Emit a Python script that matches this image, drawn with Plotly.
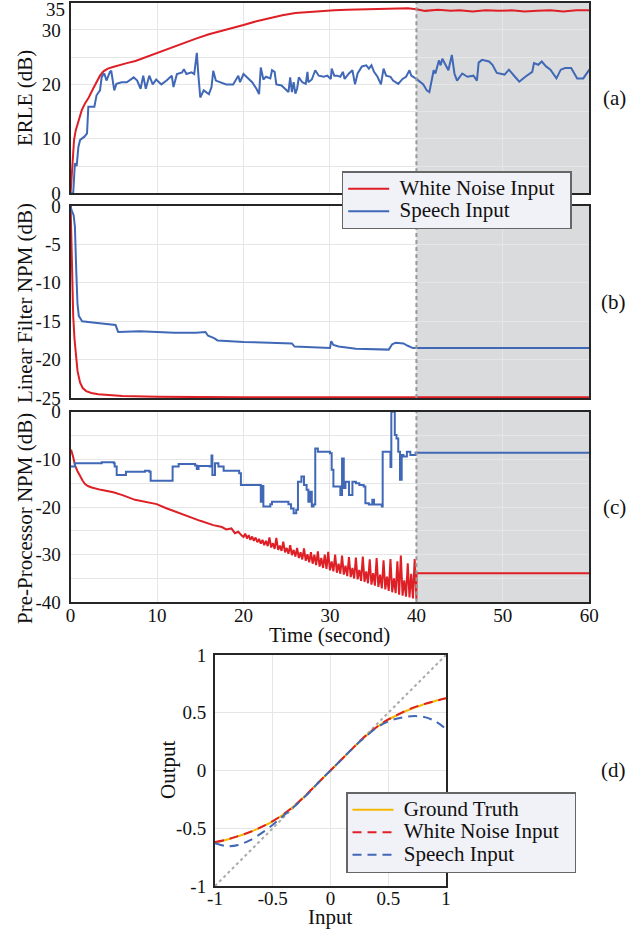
import plotly.graph_objects as go

# ---------------- data ----------------
# (a) ERLE
t_erle_wn = [0, 0.1, 0.25, 0.4, 0.6, 0.9, 1.3, 1.7, 2.1, 2.6, 3.0, 3.4, 3.8, 4.3, 4.9, 5.5, 6.5, 7.5,
             8.5, 10, 11.5, 13, 14.5, 16, 17.5, 19, 20, 21.5, 23, 24.5, 26, 27.5, 29, 30.5, 32, 34, 36,
             37.5, 39, 40, 41, 42.5, 44, 45, 46.5, 48, 49.5, 51, 52.5, 54, 55.5, 57, 58.5, 60]
erle_wn = [0, 3.0, 7.0, 9.8, 11.6, 13.3, 15.3, 16.6, 17.6, 19.2, 20.4, 21.6, 22.4, 22.9, 23.2, 23.5, 23.9,
           24.3, 24.9, 25.8, 26.6, 27.5, 28.4, 29.2, 29.8, 30.4, 30.9, 31.6, 32.2, 32.7, 33.1, 33.3, 33.5,
           33.6, 33.7, 33.8, 33.9, 34.0, 34.0, 33.8, 33.5, 33.7, 33.5, 33.6, 33.4, 33.6, 33.5, 33.6, 33.4,
           33.5, 33.6, 33.4, 33.6, 33.6]

t_erle_sp = [0, 0.3, 0.5, 0.7, 0.9, 1.1, 1.6, 1.9, 2.05, 2.75,
             3.0, 3.4, 3.6, 3.9, 4.15, 4.55, 4.7, 5.05, 5.3, 5.9,
             6.5, 6.9, 7.3, 7.7, 8.1, 8.4, 8.7, 9.1, 9.5, 9.9,
             10.5, 11.1, 11.7, 11.9, 12.3, 12.9, 13.1, 13.4, 14.0, 14.3,
             14.6, 14.8, 15.0, 15.4, 16.0, 16.3, 16.5, 16.8, 17.3, 18.0,
             18.8, 19.4, 19.6, 20.0, 20.4, 21.0, 21.5, 21.8, 22.0, 22.3,
             22.6, 23.1, 23.3, 23.6, 23.8, 24.4, 24.8, 25.2, 25.4, 25.6,
             25.8, 26.0, 26.2, 26.4, 26.8, 27.2, 27.4, 27.5, 27.9, 28.3,
             28.7, 29.3, 29.7, 30.1, 30.2, 30.5, 30.8, 31.2, 31.5, 31.7,
             32.2, 32.6, 32.9, 33.2, 33.7, 34.2, 34.5, 34.8, 35.1, 35.5,
             35.9, 36.2, 36.5, 37.0, 37.3, 37.7, 37.9, 38.4, 38.8, 39.2,
             39.4, 40.0, 40.8, 41.2, 41.5, 42.0, 42.2, 42.6, 42.8, 43.0,
             43.4, 43.7, 44.1, 44.4, 44.7, 45.3, 45.9, 46.6, 47.0, 47.2,
             47.6, 48.4, 48.8, 49.3, 50.2, 50.7, 51.4, 51.9, 52.6, 53.4,
             53.6, 54.1, 54.5, 55.0, 55.5, 56.2, 56.7, 57.2, 57.9, 58.6,
             59.3, 60.0]
erle_sp = [0, 0, 5.5, 5.0, 8.5, 9.8, 10.4, 11.0, 15.9, 15.9,
           18.0, 18.9, 21.4, 22.0, 20.7, 22.3, 22.5, 18.9, 20.1, 20.4,
           20.4, 20.8, 21.3, 20.7, 19.2, 21.6, 19.2, 21.6, 20.0, 20.9,
           20.0, 20.7, 21.6, 19.5, 21.9, 22.2, 22.8, 21.9, 22.2, 21.9,
           25.8, 21.3, 17.6, 18.9, 18.2, 19.5, 22.5, 20.7, 20.4, 20.0,
           20.0, 21.6, 20.4, 21.9, 21.3, 20.4, 19.2, 18.2, 23.1, 20.9,
           21.4, 21.1, 22.6, 22.3, 20.0, 19.8, 19.2, 18.6, 21.3, 18.6,
           20.4, 18.3, 19.2, 21.3, 20.4, 20.1, 22.3, 20.4, 20.9, 22.6,
           21.6, 21.4, 21.6, 21.0, 22.9, 21.6, 21.6, 21.4, 22.3, 21.0,
           22.0, 22.6, 20.0, 22.0, 23.3, 23.5, 22.9, 23.5, 22.3, 21.4,
           20.0, 22.9, 21.6, 21.4, 20.7, 20.4, 20.1, 21.0, 21.4, 22.6,
           21.6, 21.0, 20.0, 18.9, 18.6, 22.6, 22.0, 24.4, 23.5, 24.7,
           23.5, 22.6, 25.4, 22.0, 20.7, 22.0, 21.4, 21.6, 20.7, 24.0,
           24.5, 24.2, 23.6, 22.1, 21.8, 22.7, 21.4, 20.5, 21.4, 22.3,
           23.9, 23.6, 24.2, 23.3, 22.7, 21.1, 22.7, 23.0, 23.0, 21.1,
           21.1, 22.7]

# (b) Linear filter NPM
t_lin_wn = [0, 0.05, 0.1, 0.2, 0.3, 0.45, 0.6, 0.8, 1.1, 1.4, 1.8, 2.4, 3.2, 4.5, 6, 10, 20, 40, 60]
lin_wn = [0, -3, -6.6, -11, -14.3, -17.3, -19.5, -21.5, -23, -23.7, -24.1, -24.35, -24.5, -24.65,
          -24.75, -24.85, -24.9, -24.9, -24.9]
t_lin_sp = [0, 0.1, 0.35, 0.5, 0.66, 0.8, 0.95, 1.33, 2.8, 4.7,
            5.2, 5.5, 8, 10, 12, 14.5, 15.6, 15.9, 16.6, 17.0,
            20, 23, 25.6, 25.9, 28, 30.0, 30.15, 30.4, 31, 33,
            36.8, 37.2, 37.6, 38.5, 39.0, 39.6, 40, 60]
lin_sp = [0, -0.5, -1.2, -2.7, -8.7, -12.8, -14.3, -15.0, -15.2, -15.4,
          -15.5, -16.4, -16.3, -16.4, -16.5, -16.5, -16.4, -16.9, -17.2, -17.5,
          -17.7, -17.8, -17.9, -18.3, -18.4, -18.5, -17.6, -18.1, -18.3, -18.6,
          -18.7, -18.0, -17.8, -17.9, -18.2, -18.5, -18.5, -18.5]

# (c) Pre-processor NPM
t_pre_wn = [0, 0.06, 0.3, 0.5, 0.8, 1.09, 1.4, 1.67, 2.0, 2.44, 3.5, 4.94, 6, 7.45, 8.7, 9.96, 11, 12,
            13.6, 15, 16.5, 17.5, 18.0, 18.6, 19.0, 19.4, 19.8,
            20.0, 20.2, 20.4, 20.6, 20.8, 21.0, 21.2, 21.4, 21.6, 21.8,
            22.0, 22.2, 22.4, 22.6, 22.8, 23.0, 23.2, 23.4, 23.6, 23.8,
            24.0, 24.2, 24.4, 24.6, 24.8, 25.0, 25.2, 25.4, 25.6, 25.8,
            26.0, 26.2, 26.4, 26.6, 26.8, 27.0, 27.2, 27.4, 27.6, 27.8,
            28.0, 28.2, 28.4, 28.6, 28.8, 29.0, 29.2, 29.4, 29.6, 29.8,
            30.0, 30.2, 30.4, 30.6, 30.8, 31.0, 31.2, 31.4, 31.6, 31.8,
            32.0, 32.2, 32.4, 32.6, 32.8, 33.0, 33.2, 33.4, 33.6, 33.8,
            34.0, 34.2, 34.4, 34.6, 34.8, 35.0, 35.2, 35.4, 35.6, 35.8,
            36.0, 36.2, 36.4, 36.6, 36.8, 37.0, 37.2, 37.4, 37.6, 37.8,
            38.0, 38.2, 38.4, 38.6, 38.8, 39.0, 39.2, 39.4, 39.6, 39.8,
            40.0, 40.02, 60]
pre_wn = [-8.5, -8.0, -9.5, -11.2, -12.5, -13.6, -14.5, -15.2, -15.6, -15.9, -16.4, -16.9, -17.5, -18.5,
          -19.0, -19.4, -20.2, -20.9, -22.0, -22.9, -23.8, -24.2, -24.7, -24.5, -25.5, -25.2, -26.0,
          -26.3, -25.6, -26.6, -25.9, -26.9, -26.2, -27.1, -26.4, -27.4, -26.7,
          -27.7, -26.9, -28.0, -27.1, -28.2, -26.4, -28.5, -27.6, -28.8, -26.5,
          -29.0, -28.1, -29.2, -27.3, -29.5, -28.6, -29.8, -28.0, -30.1, -29.0,
          -30.4, -28.6, -30.7, -29.5, -31.0, -28.7, -31.3, -29.9, -31.6, -29.5,
          -31.9, -30.0, -32.2, -29.3, -32.5, -30.7, -32.8, -30.0, -33.0, -29.4,
          -33.3, -31.4, -33.5, -30.0, -33.8, -31.9, -34.0, -30.2, -34.2, -32.3,
          -34.5, -30.5, -34.7, -32.8, -35.0, -30.6, -35.2, -33.2, -35.5, -30.4,
          -35.7, -33.5, -36.0, -31.0, -36.3, -33.9, -36.5, -30.7, -36.8, -34.2,
          -37.1, -31.2, -37.3, -34.6, -37.6, -30.9, -37.9, -35.0, -38.1, -31.4,
          -38.4, -30.2, -38.6, -35.4, -38.8, -31.8, -39.0, -34.0, -39.2, -30.9,
          -39.4, -33.9, -33.9]
t_pre_sp = [0, 0.5, 3.6, 5.0, 5.1, 5.33, 6.0, 6.4, 8.6, 9.1,
            9.26, 11.7, 11.8, 12.5, 14.4, 14.6, 14.8, 16.1, 16.3, 16.4,
            16.7, 17.1, 17.7, 19.5, 19.7, 21.9, 22.0, 22.2, 22.3, 23.1,
            23.3, 25.2, 25.5, 25.8, 26.1, 26.3, 26.7, 27.0, 27.3, 27.5,
            27.7, 27.9, 28.1, 28.3, 28.6, 30.0, 30.2, 30.4, 30.8, 31.2,
            31.4, 31.6, 31.8, 32.2, 32.6, 33.0, 33.4, 33.9, 34.1, 34.5,
            34.9, 35.1, 36.0, 36.1, 36.8, 37.0, 37.1, 37.3, 37.5, 37.7,
            37.9, 38.1, 38.3, 38.5, 38.9, 39.3, 39.9, 60]
pre_sp = [-11.5, -10.8, -10.6, -10.8, -11.5, -13.3, -13.3, -12.6, -12.4, -12.6,
          -14.5, -14.5, -11.5, -11.0, -11.3, -12.0, -11.4, -11.5, -9.2, -13.3,
          -10.8, -11.5, -12.4, -12.9, -15.4, -15.4, -18.9, -15.6, -19.9, -19.4,
          -18.9, -19.4, -20.3, -21.3, -20.6, -14.7, -13.6, -15.4, -16.4, -18.9,
          -16.8, -19.9, -19.5, -7.7, -8.4, -8.7, -12.2, -15.7, -15.7, -17.5,
          -9.8, -16.0, -14.7, -17.5, -14.7, -15.0, -15.4, -15.7, -19.2, -19.5,
          -18.5, -19.5, -19.9, -8.4, -8.4, -11.6, 0, 0, -4.9, -5.6,
          -8.4, -14.3, -9.1, -9.4, -8.4, -9.1, -8.6, -8.7]

# (d) nonlinearity
x_in = [-1.0, -0.9, -0.8, -0.7, -0.6, -0.5, -0.4, -0.3, -0.2, -0.1, 0.0,
        0.1, 0.2, 0.3, 0.4, 0.5, 0.6, 0.7, 0.8, 0.9, 1.0]
y_gt = [-0.625, -0.6, -0.57, -0.535, -0.49, -0.44, -0.375, -0.295, -0.2, -0.1, 0.0,
        0.1, 0.2, 0.295, 0.375, 0.44, 0.49, 0.535, 0.57, 0.6, 0.625]
y_wn = [-0.62, -0.598, -0.568, -0.534, -0.49, -0.438, -0.373, -0.294, -0.2, -0.1, 0.0,
        0.1, 0.2, 0.296, 0.377, 0.442, 0.493, 0.538, 0.572, 0.6, 0.625]
y_sp = [-0.63, -0.655, -0.645, -0.605, -0.545, -0.47, -0.385, -0.3, -0.205, -0.1, 0.0,
        0.1, 0.2, 0.29, 0.37, 0.425, 0.455, 0.47, 0.465, 0.43, 0.36]
diag = [-1.0, 1.0]

time_ticks = [0, 10, 20, 30, 40, 50, 60]
time_labels = ["0", "10", "20", "30", "40", "50", "60"]

# ---------------- style ----------------
W, H = 644, 932
FONT = "Liberation Serif"
RED = "#de1f26"
BLUE = "#4068b6"
GOLD = "#f5b800"
GRID = "#e6e6e6"
FRAME = "#262626"
SHADE = "#dadbdd"


def fx(px):
    return px / W


def fy(py):
    return 1 - py / H


def leg(name):
    # larger visible text, compact row spacing
    return '<span style="font-size:21px">\u00a0' + name + '\u00a0\u00a0</span>'


fig = go.Figure()

lw = 2
fig.add_trace(go.Scatter(x=t_erle_wn, y=erle_wn, mode="lines", line=dict(color=RED, width=lw),
                         name=leg("White Noise Input"), xaxis="x", yaxis="y", legend="legend"))
fig.add_trace(go.Scatter(x=t_erle_sp, y=erle_sp, mode="lines", line=dict(color=BLUE, width=lw),
                         name=leg("Speech Input"), xaxis="x", yaxis="y", legend="legend"))
fig.add_trace(go.Scatter(x=t_lin_wn, y=lin_wn, mode="lines", line=dict(color=RED, width=lw),
                         showlegend=False, xaxis="x2", yaxis="y2"))
fig.add_trace(go.Scatter(x=t_lin_sp, y=lin_sp, mode="lines", line=dict(color=BLUE, width=lw),
                         showlegend=False, xaxis="x2", yaxis="y2"))
fig.add_trace(go.Scatter(x=t_pre_wn, y=pre_wn, mode="lines", line=dict(color=RED, width=2),
                         showlegend=False, xaxis="x3", yaxis="y3"))
fig.add_trace(go.Scatter(x=t_pre_sp, y=pre_sp, mode="lines", line=dict(color=BLUE, width=lw, shape="hv"),
                         showlegend=False, xaxis="x3", yaxis="y3"))

fig.add_trace(go.Scatter(x=diag, y=diag, mode="lines", line=dict(color="#aaaaaa", width=2, dash="dot"),
                         showlegend=False, xaxis="x4", yaxis="y4"))
fig.add_trace(go.Scatter(x=x_in, y=y_gt, mode="lines", line=dict(color=GOLD, width=2, shape="spline"),
                         name=leg("Ground Truth"), xaxis="x4", yaxis="y4", legend="legend2"))
fig.add_trace(go.Scatter(x=x_in, y=y_wn, mode="lines",
                         line=dict(color=RED, width=2, dash="9px,6px", shape="spline"),
                         name=leg("White Noise Input"), xaxis="x4", yaxis="y4", legend="legend2"))
fig.add_trace(go.Scatter(x=x_in, y=y_sp, mode="lines",
                         line=dict(color=BLUE, width=2, dash="9px,6px", shape="spline"),
                         name=leg("Speech Input"), xaxis="x4", yaxis="y4", legend="legend2"))

tickfont = dict(family=FONT, size=19, color="#111")
common = dict(showgrid=True, gridcolor=GRID, gridwidth=1, zeroline=False, showline=True, mirror=True,
              linecolor=FRAME, linewidth=2, ticks="", tickfont=tickfont, fixedrange=True,
              automargin=False)

xdom = [fx(70.6), fx(589.3)]
legfont = dict(family=FONT, size=15, color="#111")
layout = dict(
    width=W, height=H, margin=dict(l=0, r=0, t=0, b=0, autoexpand=False),
    paper_bgcolor="white", plot_bgcolor="white",
    font=dict(family=FONT, size=19, color="#111"),
    xaxis=dict(domain=xdom, anchor="y", range=[0, 60], tickvals=time_ticks, showticklabels=False, **common),
    yaxis=dict(domain=[fy(193.3), fy(2.7)], anchor="x", range=[0, 35],
               tickvals=[0, 5, 10, 15, 20, 25, 30, 35], ticktext=["0", "", "10", "", "20", "", "30", ""],
               ticklabelstandoff=4, **common),
    xaxis2=dict(domain=xdom, anchor="y2", range=[0, 60], tickvals=time_ticks, showticklabels=False, **common),
    yaxis2=dict(domain=[fy(398), fy(206)], anchor="x2", range=[-25, 0],
                tickvals=[-25, -20, -15, -10, -5, 0], ticktext=["-25", "-20", "-15", "-10", "-5", "0"],
                ticklabelstandoff=4, **common),
    xaxis3=dict(domain=xdom, anchor="y3", range=[0, 60], tickvals=time_ticks, ticktext=time_labels,
                ticklabelstandoff=-5, **common),
    yaxis3=dict(domain=[fy(602.3), fy(411.7)], anchor="x3", range=[-40, 0],
                tickvals=[-40, -35, -30, -25, -20, -15, -10, -5, 0],
                ticktext=["-40", "", "-30", "", "-20", "", "-10", "", "0"],
                ticklabelstandoff=4, **common),
    xaxis4=dict(domain=[fx(215), fx(446)], anchor="y4", range=[-1, 1],
                tickvals=[-1, -0.5, 0, 0.5, 1], ticktext=["-1", "-0.5", "0", "0.5", "1"],
                ticklabelstandoff=-6, **common),
    yaxis4=dict(domain=[fy(886), fy(655)], anchor="x4", range=[-1, 1],
                tickvals=[-1, -0.5, 0, 0.5, 1], ticktext=["-1", "-0.5", "0", "0.5", "1"],
                ticklabelstandoff=3, **common),
    legend=dict(x=fx(341.7), y=fy(171), xanchor="left", yanchor="top", bgcolor="#f1f1f8",
                bordercolor="#666666", borderwidth=1.5, font=legfont, itemwidth=41),
    legend2=dict(x=fx(346), y=fy(792), xanchor="left", yanchor="top", bgcolor="#f1f1f8",
                 bordercolor="#666666", borderwidth=1.5, font=legfont, itemwidth=41),
)
fig.update_layout(**layout)

# shaded region and dashed separator in panels (a)-(c)
for xr, yr, lo, hi in [("x", "y", 0, 35), ("x2", "y2", -25, 0), ("x3", "y3", -40, 0)]:
    fig.add_shape(type="rect", xref=xr, yref=yr, x0=40, x1=60, y0=lo, y1=hi,
                  fillcolor=SHADE, line=dict(width=0), layer="below")
    fig.add_shape(type="line", xref=xr, yref=yr, x0=40, x1=40, y0=lo, y1=hi,
                  line=dict(color="#999999", width=2, dash="4px,3px"), layer="above")

tfont = dict(family=FONT, size=21, color="#111")
ann = [
    dict(text="ERLE (dB)", x=fx(25), y=fy(98), textangle=-90),
    dict(text="Linear Filter NPM (dB)", x=fx(25), y=fy(303), textangle=-90),
    dict(text="Pre-Processor NPM (dB)", x=fx(25), y=fy(519), textangle=-90),
    dict(text="Time (second)", x=fx(329), y=fy(635)),
    dict(text="(a)", x=fx(614), y=fy(98)),
    dict(text="(b)", x=fx(613), y=fy(302)),
    dict(text="(c)", x=fx(614), y=fy(507)),
    dict(text="(d)", x=fx(613), y=fy(770)),
    dict(text="Output", x=fx(168), y=fy(770), textangle=-90),
    dict(text="Input", x=fx(330), y=fy(917)),
]
for a in ann:
    fig.add_annotation(xref="paper", yref="paper", showarrow=False, xanchor="center", yanchor="middle",
                       font=tfont, **a)
fig.add_annotation(text="35", xref="paper", yref="paper", x=fx(66.5), y=fy(9), showarrow=False,
                   xanchor="right", yanchor="middle", font=tickfont)

fig.write_html("out.html", include_plotlyjs=True, config=dict(displayModeBar=False),
               post_script="document.body.style.margin='0px';")
